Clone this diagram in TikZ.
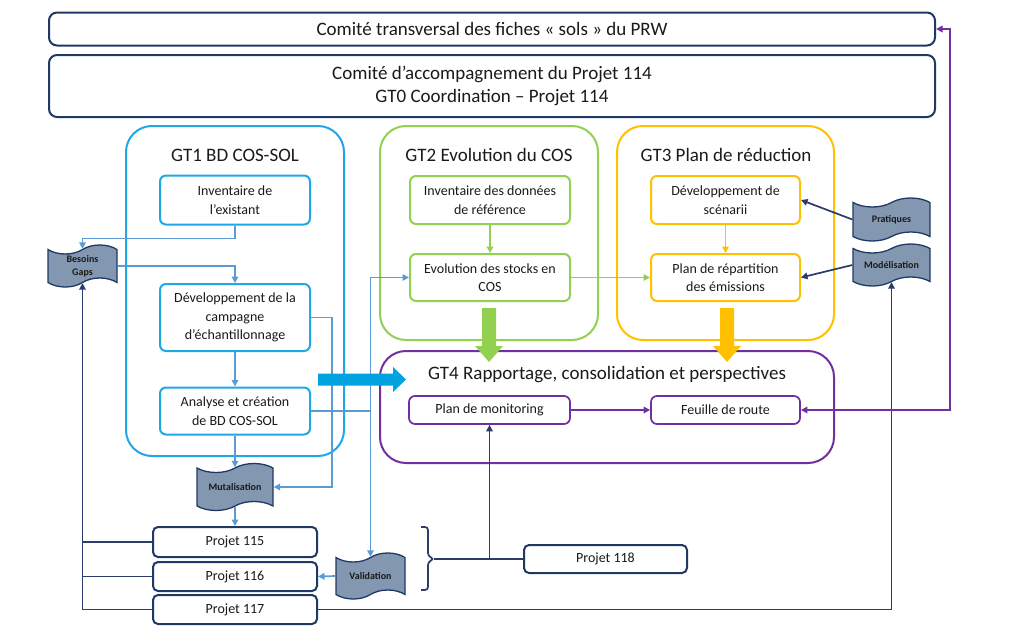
\documentclass[tikz,border=0pt]{standalone}
\usepackage{fontspec}
\setmainfont{Carlito}
\usetikzlibrary{shapes.symbols,arrows.meta}
\definecolor{navy}{HTML}{1F3864}
\definecolor{navyline}{HTML}{2A3C6B}
\definecolor{flagfill}{HTML}{8497B0}
\definecolor{lblue}{HTML}{5B9BD5}
\definecolor{gtone}{HTML}{1FA8E6}
\definecolor{gttwo}{HTML}{92D050}
\definecolor{gtthree}{HTML}{FFC000}
\definecolor{gtfour}{HTML}{7030A0}
\definecolor{thickblue}{HTML}{00A3E0}
\definecolor{txt}{HTML}{1A1A1A}
\begin{document}
\begin{tikzpicture}[x=1pt,y=-1pt,
  every node/.style={text=txt},
  topbox/.style={draw=navy, line width=2, rounded corners=8, align=center, inner sep=0, font=\fontsize{19}{23}\selectfont},
  container/.style={line width=2, rounded corners=26},
  gtitle/.style={inner sep=0, font=\fontsize{19}{23}\selectfont},
  sbox/.style={fill=white, line width=2, rounded corners=6, align=center, inner sep=0, font=\fontsize{14}{18.5}\selectfont},
  pbox/.style={sbox, draw=navy, rounded corners=5},
  flag/.style={tape, draw=navy, fill=flagfill, line width=1.3, tape bend height=9, inner sep=0, align=center, font=\fontsize{10}{13}\selectfont\bfseries},
  tip/.style={-{Triangle[length=6.5,width=6.5]}},
  lbl/.style={draw=lblue, line width=1.7},
  nvl/.style={draw=navyline, line width=1.7},
  grl/.style={draw=gttwo, line width=1.7},
  orl/.style={draw=gtthree, line width=1.7},
  pul/.style={draw=gtfour, line width=1.7}
]
\useasboundingbox (0,0) rectangle (1012,640);

% top committees
\node[topbox, minimum width=886, minimum height=33] (top) at (492,29) {Comité transversal des fiches « sols » du PRW};
\node[topbox, minimum width=886, minimum height=62] (acc) at (492,86) {Comité d’accompagnement du Projet 114\\GT0 Coordination – Projet 114};

% containers
\node[container, draw=gtone, minimum width=218, minimum height=330] (gt1) at (235,291) {};
\node[container, draw=gttwo, minimum width=218, minimum height=214] (gt2) at (489,233) {};
\node[container, draw=gtthree, minimum width=217, minimum height=214] (gt3) at (725.5,233) {};
\node[container, draw=gtfour, minimum width=454, minimum height=112] (gt4) at (607,407) {};

\node[gtitle] (t1) at (235,155) {GT1 BD COS-SOL};
\node[gtitle] (t2) at (489,155) {GT2 Evolution du COS};
\node[gtitle] (t3) at (726,155) {GT3 Plan de réduction};
\node[gtitle] (t4) at (607,375) {GT4 Rapportage, consolidation et perspectives};

% inner boxes
\node[sbox, draw=gtone, minimum width=150, minimum height=49] (inv1) at (235,200) {Inventaire de\\l’existant};
\node[sbox, draw=gtone, minimum width=150, minimum height=67] (dev1) at (235,317.5) {Développement de la\\campagne\\d’échantillonnage};
\node[sbox, draw=gtone, minimum width=150, minimum height=47] (ana1) at (235,411) {Analyse et création\\de BD COS-SOL};
\node[sbox, draw=gttwo, minimum width=160, minimum height=48] (inv2) at (490,200) {Inventaire des données\\de référence};
\node[sbox, draw=gttwo, minimum width=160, minimum height=47] (evo2) at (490,277.5) {Evolution des stocks en\\COS};
\node[sbox, draw=gtthree, minimum width=149, minimum height=48] (dev3) at (725.5,200) {Développement de\\scénarii};
\node[sbox, draw=gtthree, minimum width=149, minimum height=47] (plan3) at (725.5,277.5) {Plan de répartition\\des émissions};
\node[sbox, draw=gtfour, line width=1.7, minimum width=161, minimum height=28] (mon4) at (489.5,410) {Plan de monitoring};
\node[sbox, draw=gtfour, line width=1.7, minimum width=149, minimum height=28] (feu4) at (725.5,410) {Feuille de route};

% flags
\node[flag, minimum width=69, minimum height=42] (bes) at (82.5,266) {Besoins\\Gaps};
\node[flag, minimum width=77, minimum height=43] (prat) at (891.5,219.5) {Pratiques};
\node[flag, minimum width=77, minimum height=42] (modl) at (891.5,265) {Modélisation};
\node[flag, minimum width=76, minimum height=47] (mut) at (235,487) {Mutalisation};
\node[flag, minimum width=69, minimum height=46] (val) at (370.5,576) {Validation};

% projects
\node[pbox, minimum width=164, minimum height=30] (p115) at (235,542) {Projet 115};
\node[pbox, minimum width=164, minimum height=29] (p116) at (235,576.5) {Projet 116};
\node[pbox, minimum width=164, minimum height=29] (p117) at (235,609.5) {Projet 117};
\node[pbox, minimum width=163, minimum height=28] (p118) at (605.5,559) {Projet 118};

% light blue connectors
\draw[lbl, tip] (inv1.south) -- ++(0,13) -| (bes.north);
\draw[lbl, tip] (bes.east) -| (dev1.north);
\draw[lbl, tip] (dev1.south) -- (ana1.north);
\draw[lbl, tip] (dev1.east) -- ++(21,0) |- (mut.east);
\draw[lbl, tip] (ana1.south) -- (mut.north);
\draw[lbl, tip] (mut.south) -- (p115.north);
\draw[lbl, tip] (ana1.east) -| (val.north);
\draw[lbl, tip] (ana1.east -| val.north) |- (evo2.west);
\draw[lbl, tip] (val.west) -- (p116.east);

% navy connectors
\draw[nvl] (p115.west) -- (p115.west -| bes.south);
\draw[nvl] (p116.west) -- (p116.west -| bes.south);
\draw[nvl, tip] (p117.west) -| (bes.south);
\draw[nvl, tip] (p117.east) -| (modl.south);
\draw[nvl, tip] (prat.west) -- (dev3.east);
\draw[nvl, tip] (modl.west) -- (plan3.east);

% bracket and project 118
\coordinate (brtip) at (434,559);
\draw[nvl, rounded corners=3] (421,527) -- (428,527) -- (428,556) -- (brtip) -- (428,562) -- (428,590) -- (421,590);
\draw[nvl] (brtip) -- (p118.west);
\draw[nvl, tip] (p118.west -| mon4.south) -- (mon4.south);

% green / orange / purple connectors
\draw[grl, tip] (inv2.south) -- (evo2.north);
\draw[grl, tip] (evo2.east) -- (plan3.west);
\draw[orl, tip] (dev3.south) -- (plan3.north);
\draw[pul, tip] (mon4.east) -- (feu4.west);
\coordinate (pr) at (950,410);
\draw[pul, {Triangle[length=6.5,width=6.5]}-{Triangle[length=6.5,width=6.5]}] (top.east) -| (pr) -- (feu4.east);

% thick arrows
\fill[gttwo] (482,308) -- (496,308) -- (496,346) -- (503,346) -- (489,362) -- (475,346) -- (482,346) -- cycle;
\fill[gtthree] (720,308) -- (734,308) -- (734,346) -- (741,346) -- (727,362) -- (713,346) -- (720,346) -- cycle;
\fill[thickblue] (318,373.5) -- (393,373.5) -- (393,367) -- (406,379.5) -- (393,392) -- (393,385.5) -- (318,385.5) -- cycle;
\end{tikzpicture}
\end{document}
